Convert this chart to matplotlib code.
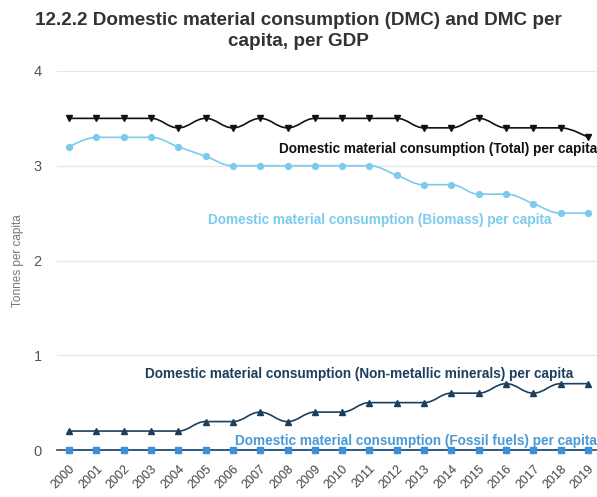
import numpy as np
import matplotlib.pyplot as plt
from matplotlib.path import Path
from matplotlib.patches import PathPatch

years = list(range(2000, 2020))
total = [3.5, 3.5, 3.5, 3.5, 3.4, 3.5, 3.4, 3.5, 3.4, 3.5,
         3.5, 3.5, 3.5, 3.4, 3.4, 3.5, 3.4, 3.4, 3.4, 3.3]
biomass = [3.2, 3.3, 3.3, 3.3, 3.2, 3.1, 3.0, 3.0, 3.0, 3.0,
           3.0, 3.0, 2.9, 2.8, 2.8, 2.7, 2.7, 2.6, 2.5, 2.5]
non_metallic = [0.2, 0.2, 0.2, 0.2, 0.2, 0.3, 0.3, 0.4, 0.3, 0.4,
                0.4, 0.5, 0.5, 0.5, 0.6, 0.6, 0.7, 0.6, 0.7, 0.7]
fossil = [0.0] * 20

series_labels = [
    "Domestic material consumption (Total) per capita",
    "Domestic material consumption (Biomass) per capita",
    "Domestic material consumption (Non-metallic minerals) per capita",
    "Domestic material consumption (Fossil fuels) per capita",
]

plt.rcParams["font.family"] = ["Liberation Sans", "DejaVu Sans"]


def spline_path(xs, ys, smoothing=1.5):
    """Cubic bezier through the points, same idea as a Highcharts spline."""
    xs = np.asarray(xs, float)
    ys = np.asarray(ys, float)
    n = len(xs)
    denom = smoothing + 1
    left = [(xs[i], ys[i]) for i in range(n)]
    right = [(xs[i], ys[i]) for i in range(n)]
    for i in range(1, n - 1):
        x, y = xs[i], ys[i]
        lx, ly = xs[i - 1], ys[i - 1]
        nx, ny = xs[i + 1], ys[i + 1]
        lcx = (smoothing * x + lx) / denom
        lcy = (smoothing * y + ly) / denom
        rcx = (smoothing * x + nx) / denom
        rcy = (smoothing * y + ny) / denom
        if rcx != lcx:
            corr = (rcy - lcy) * (rcx - x) / (rcx - lcx) + y - rcy
            lcy += corr
            rcy += corr
        if lcy > ly and lcy > y:
            lcy = max(ly, y)
            rcy = 2 * y - lcy
        elif lcy < ly and lcy < y:
            lcy = min(ly, y)
            rcy = 2 * y - lcy
        if rcy > ny and rcy > y:
            rcy = max(ny, y)
            lcy = 2 * y - rcy
        elif rcy < ny and rcy < y:
            rcy = min(ny, y)
            lcy = 2 * y - rcy
        left[i] = (lcx, lcy)
        right[i] = (rcx, rcy)
    verts = [(xs[0], ys[0])]
    codes = [Path.MOVETO]
    for i in range(1, n):
        verts += [right[i - 1], left[i], (xs[i], ys[i])]
        codes += [Path.CURVE4] * 3
    return Path(verts, codes)


fig = plt.figure(figsize=(5.97, 4.97), dpi=100)
W, H = 597, 497
ax = fig.add_axes([57 / W, (H - 450) / H, (597 - 57) / W, (450 - 71) / H])

ax.set_xlim(1999.56, 2019.33)
ax.set_ylim(0, 4)

for name, s in ax.spines.items():
    s.set_visible(name == "bottom")
ax.spines["bottom"].set_color("#3a4a5a")
ax.spines["bottom"].set_linewidth(1.2)
ax.set_yticks([0, 1, 2, 3, 4])
ax.yaxis.grid(True, color="#e6e6e6", linewidth=0.9)
ax.set_axisbelow(True)
ax.tick_params(axis="y", length=0, pad=11, labelsize=10.5, labelcolor="#555555")
ax.tick_params(axis="x", length=0, pad=9, labelsize=9, labelcolor="#444444")
ax.set_xticks(years)
ax.set_xticklabels([str(y) for y in years], rotation=45, ha="right",
                   rotation_mode="anchor")
ax.set_ylabel("Tonnes per capita", fontsize=8.5, color="#777777")
ax.yaxis.set_label_coords(-0.061, 0.5)

styles = [
    (total, "#111111", "v"),
    (biomass, "#7ccbec", "o"),
    (non_metallic, "#1d3f5e", "^"),
    (fossil, "#2a5d8c", "s"),
]
for vals, color, marker in styles:
    patch = PathPatch(spline_path(years, vals), facecolor="none",
                      edgecolor=color, linewidth=1.2, clip_on=False, zorder=3)
    ax.add_patch(patch)
    mcolor = "#3d8fd6" if marker == "s" else color
    ax.plot(years, vals, linestyle="none", marker=marker, markersize=4.2,
            color=mcolor, clip_on=False, zorder=4)

# series labels
label_kw = dict(va="center", fontsize=9.8, fontweight="bold")
ax.text(2019.33, 3.18, series_labels[0], ha="right", color="#111111", **label_kw)
ax.text(2005.1, 2.43, series_labels[1], ha="left", color="#7ccbec", **label_kw)
ax.text(2002.8, 0.8, series_labels[2], ha="left", color="#1d3f5e", **label_kw)
ax.text(2019.33, 0.1, series_labels[3], ha="right", color="#4a9ad8", **label_kw)

fig.text(0.5, 1 - 31 / H, "12.2.2 Domestic material consumption (DMC) and DMC per\ncapita, per GDP",
         ha="center", va="center", fontsize=13.6, fontweight="bold",
         color="#333333", linespacing=1.35)

fig.savefig("out.png", dpi=100)
